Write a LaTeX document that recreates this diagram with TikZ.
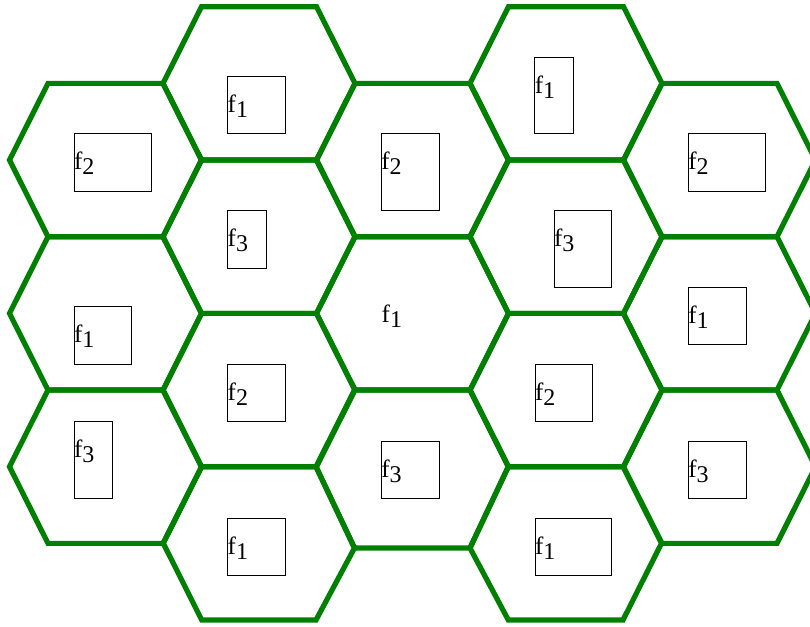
\documentclass[tikz,border=0pt]{standalone}
\usepackage{fontspec}
\setmainfont{Liberation Serif}
\definecolor{hexgreen}{RGB}{0,128,0}
\newcommand\fsub[1]{\fontsize{25}{25}\selectfont f\raisebox{-5pt}{\fontsize{24}{24}\selectfont #1}}
\newcommand\chan[6]{%
  \node[chanbox, minimum width=#4pt, minimum height=#5pt] (#1) at (#2,#3) {};
  \node[chanlbl] (#1t) at ({#2},{#3+36}) {\fsub{#6}};}
\newcommand\hexcell[2]{%
  \pgfmathsetmacro\xa{9.5+153.5*#1}%
  \pgfmathsetmacro\ya{6.7+76.67*#2}%
  \draw[hexline] (\xa,\ya+76.67) -- (\xa+38.5,\ya) -- (\xa+153.5,\ya)
    -- (\xa+192,\ya+76.67) -- (\xa+153.5,\ya+153.33) -- (\xa+38.5,\ya+153.33) -- cycle;}
\begin{document}
\begin{tikzpicture}[x=1pt,y=-1pt,
  hexline/.style={draw=hexgreen, line width=5.2pt, line join=miter},
  chanbox/.style={draw=black, line width=0.8pt, anchor=north west, inner sep=0pt, outer sep=0pt},
  chanlbl/.style={anchor=base west, inner sep=0pt, outer sep=0pt, text=black}]
\useasboundingbox (0,0) rectangle (810,626);
\clip (0,0) rectangle (810,626);
% hexagons
\foreach \c/\k in {0/1,0/3,0/5,2/1,2/3,4/1,4/3,4/5,1/0,1/2,1/4,3/0,3/2,3/4}{\hexcell{\c}{\k}}
\draw[hexline] (316,466.7) -- (354.5,390) -- (470,390) -- (508.3,466.7) -- (470,548) -- (354.5,548) -- cycle;
\draw[hexline] (163.3,543.3) -- (201.7,466.7) -- (316,466.7) -- (354.5,548) -- (316,620) -- (201.7,620) -- cycle;
\draw[hexline] (470,548) -- (508.3,466.7) -- (623,466.7) -- (661.5,543.3) -- (623,620) -- (508.3,620) -- cycle;
% channel boxes
\chan{a1}{74}{133.5}{77}{57.5}{2}
\chan{a2}{74}{306.7}{57.7}{57.5}{1}
\chan{a3}{74}{421.7}{38.5}{76.7}{3}
\chan{b1}{227.7}{76}{57.7}{57.7}{1}
\chan{b2}{227.7}{210.7}{38.5}{57.3}{3}
\chan{b3}{227.7}{364.2}{57.5}{57}{2}
\chan{b4}{227.7}{518}{57.5}{57}{1}
\chan{c1}{381.3}{133.6}{57.7}{76.7}{2}
\node[chanlbl] (c2t) at (381.7,322.3) {\fsub{1}};
\chan{c3}{381.3}{441}{57.7}{57.3}{3}
\chan{d1}{534.8}{57}{38.5}{76.7}{1}
\chan{d2}{554}{210.4}{57.8}{76.9}{3}
\chan{d3}{535}{364.2}{57.3}{57}{2}
\chan{d4}{535}{518}{76.7}{57}{1}
\chan{e1}{688.3}{133.6}{77}{57.4}{2}
\chan{e2}{688.3}{287.3}{57.7}{57.5}{1}
\chan{e3}{688.3}{441}{57.7}{57.3}{3}
\end{tikzpicture}
\end{document}
